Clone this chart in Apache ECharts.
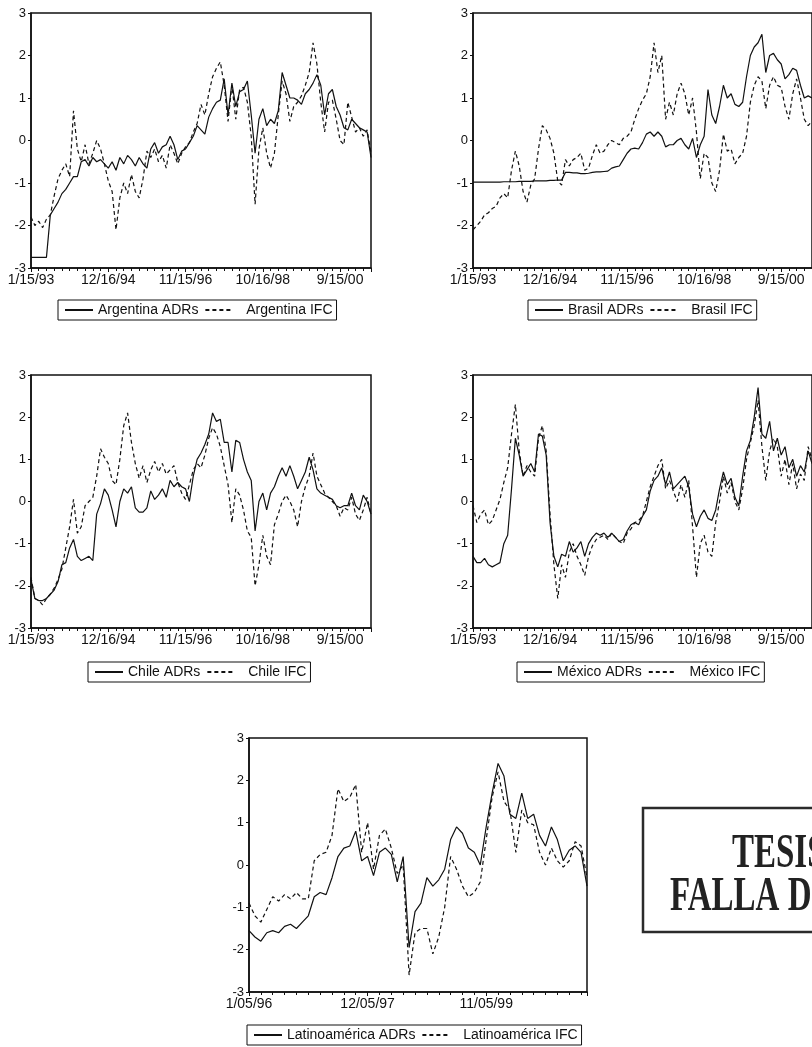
<!DOCTYPE html>
<html>
<head>
<meta charset="utf-8">
<script src="https://cdn.jsdelivr.net/npm/echarts@6/dist/echarts.min.js"></script>
<style>
  html, body { margin: 0; padding: 0; background: #fff; }
  #chart { width: 812px; height: 1047px; }
</style>
</head>
<body>
<div id="chart"></div>
<script>
// Weekly standardized series, one value every STEP observations.
const STEP = 5;

// Tick labels: one every 100 weekly observations.
const dateTicks = ['1/15/93', '12/16/94', '11/15/96', '10/16/98', '9/15/00'];
const latinTicks = ['1/05/96', '12/05/97', '11/05/99'];

const argentinaADR = [-2.75,-2.75,-2.75,-2.75,-2.75,-1.75,-1.6,-1.45,-1.25,-1.15,-1.0,-0.85,-0.85,-0.5,-0.45,-0.6,-0.4,-0.5,-0.45,-0.55,
  -0.65,-0.5,-0.7,-0.4,-0.55,-0.35,-0.45,-0.6,-0.4,-0.55,-0.65,-0.2,-0.05,-0.3,-0.15,-0.1,0.1,-0.1,-0.45,-0.25,
  -0.2,-0.05,0.1,0.35,0.25,0.15,0.55,0.75,0.9,0.95,1.45,0.6,1.35,0.8,1.15,1.2,1.4,0.6,-0.3,0.5,
  0.75,0.35,0.5,0.4,0.7,1.6,1.3,1.0,1.0,0.95,0.85,1.1,1.2,1.35,1.55,1.3,0.6,1.1,1.2,0.8,
  0.6,0.3,0.25,0.5,0.4,0.3,0.25,0.2,-0.4];
const argentinaIFC = [-1.8,-2.0,-1.9,-2.05,-1.85,-1.75,-1.3,-0.9,-0.7,-0.55,-0.85,0.7,-0.2,-0.5,-0.1,-0.55,-0.3,0.0,-0.2,-0.55,
  -0.95,-1.2,-2.1,-1.35,-1.0,-1.25,-0.8,-1.2,-1.35,-0.9,-0.25,-0.4,-0.2,-0.5,-0.35,-0.65,-0.1,-0.3,-0.55,-0.3,
  -0.15,-0.05,0.2,0.4,0.85,0.6,1.1,1.5,1.7,1.85,1.3,0.45,1.3,0.5,1.2,1.25,0.9,0.1,-1.5,-0.2,
  0.3,-0.3,-0.65,-0.3,0.6,1.4,1.1,0.45,0.8,0.9,1.05,1.3,1.6,2.3,1.8,0.9,0.2,0.9,0.95,0.5,
  0.0,-0.1,0.9,0.55,0.2,0.3,0.1,0.25,-0.3];

const brasilADR = [-0.98,-0.98,-0.98,-0.98,-0.98,-0.98,-0.98,-0.98,-0.97,-0.97,-0.97,-0.97,-0.96,-0.96,-0.96,-0.96,-0.95,-0.95,-0.95,-0.95,
  -0.94,-0.94,-0.93,-0.93,-0.75,-0.75,-0.76,-0.76,-0.78,-0.78,-0.77,-0.75,-0.74,-0.74,-0.73,-0.72,-0.65,-0.62,-0.6,-0.45,
  -0.3,-0.2,-0.18,-0.2,-0.05,0.15,0.2,0.1,0.2,0.1,-0.15,-0.1,-0.1,0.0,0.05,-0.1,-0.2,0.05,-0.4,-0.1,
  0.1,1.2,0.6,0.4,0.8,1.3,1.0,1.1,0.85,0.8,0.9,1.5,2.0,2.2,2.3,2.5,1.6,2.0,2.05,1.9,
  1.8,1.45,1.55,1.7,1.65,1.3,1.0,1.05,1.0];
const brasilIFC = [-2.1,-2.0,-1.9,-1.75,-1.7,-1.6,-1.55,-1.35,-1.25,-1.35,-0.7,-0.25,-0.6,-1.2,-1.45,-1.05,-0.9,-0.2,0.35,0.25,
  0.05,-0.3,-0.95,-1.05,-0.45,-0.6,-0.45,-0.4,-0.3,-0.7,-0.65,-0.35,-0.1,-0.3,-0.25,-0.1,0.0,-0.05,-0.1,0.05,
  0.1,0.2,0.5,0.75,0.95,1.1,1.5,2.3,1.6,2.0,0.5,0.9,0.6,1.1,1.35,1.1,0.6,1.0,0.2,-0.9,
  -0.3,-0.4,-1.0,-1.2,-0.7,0.15,-0.25,-0.2,-0.55,-0.4,-0.3,0.1,0.9,1.3,1.5,1.4,0.75,1.3,1.5,1.3,
  1.25,0.8,0.5,1.1,1.45,1.0,0.5,0.35,0.45];

const chileADR = [-1.85,-2.3,-2.35,-2.35,-2.3,-2.2,-2.1,-1.9,-1.5,-1.45,-1.1,-0.9,-1.3,-1.4,-1.35,-1.3,-1.4,-0.3,-0.05,0.3,
  0.15,-0.2,-0.6,0.0,0.3,0.2,0.35,-0.15,-0.25,-0.25,-0.15,0.25,0.05,0.15,0.3,0.1,0.5,0.35,0.45,0.35,
  0.3,0.0,0.6,1.0,1.15,1.35,1.6,2.1,1.9,1.95,1.4,1.4,0.7,1.45,1.4,1.0,0.7,0.5,-0.7,0.0,
  0.2,-0.2,0.2,0.35,0.6,0.8,0.6,0.85,0.6,0.3,0.5,0.7,1.05,0.75,0.3,0.2,0.15,0.1,0.05,-0.1,
  -0.15,-0.1,-0.1,0.2,-0.1,-0.2,0.15,0.0,-0.3];
const chileIFC = [-1.8,-2.3,-2.35,-2.45,-2.3,-2.2,-2.05,-1.85,-1.6,-1.1,-0.6,0.05,-0.75,-0.6,-0.1,0.0,0.1,0.6,1.25,1.05,
  0.9,0.5,0.4,1.0,1.8,2.1,1.4,0.9,0.55,0.85,0.45,0.75,0.95,0.7,0.9,0.65,0.75,0.85,0.45,0.2,
  0.05,0.4,0.75,0.9,0.8,1.1,1.5,1.75,1.6,1.3,0.85,0.4,-0.5,0.3,0.15,-0.2,-0.7,-0.85,-2.0,-1.5,
  -0.8,-1.3,-1.5,-0.55,-0.3,0.0,0.15,0.0,-0.2,-0.6,0.0,0.35,0.6,1.15,0.6,0.4,0.2,0.1,0.0,-0.1,
  -0.35,-0.15,-0.2,0.1,-0.3,-0.45,-0.2,0.1,-0.3];

const mexicoADR = [-1.3,-1.45,-1.45,-1.35,-1.5,-1.55,-1.5,-1.45,-1.0,-0.8,0.3,1.5,1.1,0.6,0.75,0.9,0.7,1.6,1.55,1.1,
  -0.5,-1.3,-1.55,-1.25,-1.3,-0.95,-1.2,-1.1,-0.95,-1.3,-1.0,-0.85,-0.75,-0.8,-0.75,-0.85,-0.75,-0.85,-0.95,-0.9,
  -0.7,-0.55,-0.5,-0.55,-0.35,-0.2,0.25,0.5,0.6,0.8,0.4,0.7,0.3,0.4,0.5,0.6,0.35,-0.3,-0.6,-0.35,
  -0.2,-0.4,-0.45,-0.2,0.3,0.7,0.4,0.55,0.1,-0.1,0.6,1.2,1.45,2.0,2.7,1.6,1.5,1.9,1.2,1.5,
  1.1,1.3,0.8,1.0,0.6,0.85,0.7,1.2,0.9];
const mexicoIFC = [-0.1,-0.5,-0.3,-0.2,-0.55,-0.45,-0.2,0.05,0.45,0.8,1.6,2.3,1.2,0.6,0.85,0.7,0.6,1.5,1.8,1.2,
  -0.3,-1.5,-2.3,-1.5,-1.8,-1.2,-1.0,-1.3,-1.5,-1.75,-1.3,-1.05,-0.9,-0.85,-0.8,-0.9,-0.75,-0.85,-0.95,-1.0,
  -0.75,-0.65,-0.5,-0.45,-0.35,0.0,0.35,0.6,0.85,1.0,0.3,0.5,0.25,0.0,0.4,0.1,0.5,-0.6,-1.8,-1.0,
  -0.8,-1.2,-1.3,-0.5,0.0,0.6,0.2,0.45,0.0,-0.2,0.3,1.0,1.4,1.8,2.4,1.3,0.5,1.2,1.5,1.3,
  0.6,1.0,0.4,0.9,0.3,0.65,0.5,1.3,1.0];

const latinADR = [-1.55,-1.7,-1.8,-1.6,-1.55,-1.6,-1.45,-1.4,-1.5,-1.35,-1.2,-0.75,-0.65,-0.7,-0.3,0.2,0.4,0.45,0.8,0.1,
  0.2,-0.25,0.3,0.4,0.25,-0.4,0.2,-1.95,-1.1,-0.9,-0.3,-0.5,-0.35,-0.1,0.6,0.9,0.75,0.4,0.3,0.0,
  0.9,1.7,2.4,2.1,1.2,1.1,1.7,1.1,1.2,0.7,0.45,0.9,0.6,0.1,0.35,0.45,0.3,-0.5];
const latinIFC = [-0.9,-1.2,-1.35,-1.05,-0.75,-0.85,-0.7,-0.8,-0.65,-0.8,-0.8,0.1,0.25,0.3,0.7,1.8,1.5,1.6,1.9,0.3,
  1.0,-0.1,0.7,0.85,0.4,-0.2,0.0,-2.6,-1.6,-1.5,-1.5,-2.1,-1.7,-1.0,0.2,-0.1,-0.5,-0.75,-0.65,-0.4,
  0.6,1.6,2.2,1.5,1.3,0.3,1.3,1.0,0.95,0.3,0.0,0.4,0.1,-0.05,0.1,0.55,0.45,-0.3];

const panels = [
  { country: 'Argentina',     adr: argentinaADR, ifc: argentinaIFC, ticks: dateTicks,  left: 31,  top: 13,  width: 340, height: 255, legendLeft: 58,  legendTop: 300 },
  { country: 'Brasil',        adr: brasilADR,    ifc: brasilIFC,    ticks: dateTicks,  left: 473, top: 13,  width: 340, height: 255, legendLeft: 528, legendTop: 300 },
  { country: 'Chile',         adr: chileADR,     ifc: chileIFC,     ticks: dateTicks,  left: 31,  top: 375, width: 340, height: 253, legendLeft: 88,  legendTop: 662 },
  { country: 'México',        adr: mexicoADR,    ifc: mexicoIFC,    ticks: dateTicks,  left: 473, top: 375, width: 340, height: 253, legendLeft: 517, legendTop: 662 },
  { country: 'Latinoamérica', adr: latinADR,     ifc: latinIFC,     ticks: latinTicks, left: 249, top: 738, width: 338, height: 254, legendLeft: 247, legendTop: 1025 }
];

const FONT = '"Liberation Sans", Arial, sans-serif';
const INK = '#111';

const toPairs = arr => arr.map((v, i) => [i * STEP, v]);

const grid = [], xAxis = [], yAxis = [], series = [], legend = [];

panels.forEach((p, k) => {
  const n = (p.adr.length - 1) * STEP;
  grid.push({
    left: p.left, top: p.top, width: p.width, height: p.height,
    show: true, borderColor: INK, borderWidth: 1.5, backgroundColor: 'transparent'
  });
  xAxis.push({
    gridIndex: k, type: 'value', min: 0, max: n, interval: 100,
    axisLine: { show: true, onZero: false, lineStyle: { color: INK, width: 1.5 } },
    axisTick: { show: true, inside: false, length: 4, lineStyle: { color: INK, width: 1 } },
    minorTick: { show: true, splitNumber: 10, length: 3, lineStyle: { color: INK, width: 1 } },
    splitLine: { show: false },
    axisLabel: {
      show: true, margin: 5, color: INK, fontFamily: FONT, fontSize: 14,
      showMaxLabel: false,
      formatter: v => p.ticks[Math.round(v / 100)] || ''
    }
  });
  yAxis.push({
    gridIndex: k, type: 'value', min: -3, max: 3, interval: 1,
    axisLine: { show: true, onZero: false, lineStyle: { color: INK, width: 1.5 } },
    axisTick: { show: true, inside: false, length: 3, lineStyle: { color: INK, width: 1 } },
    splitLine: { show: false },
    axisLabel: { margin: 5, color: INK, fontFamily: FONT, fontSize: 13 }
  });
  const adrName = p.country + ' ADRs';
  const ifcName = p.country + ' IFC';
  series.push({
    name: adrName, type: 'line', xAxisIndex: k, yAxisIndex: k,
    data: toPairs(p.adr), symbol: 'circle', symbolSize: 0, showSymbol: false, animation: false,
    lineStyle: { color: INK, width: 1.2, type: 'solid' }, itemStyle: { color: INK }
  });
  series.push({
    name: ifcName, type: 'line', xAxisIndex: k, yAxisIndex: k,
    data: toPairs(p.ifc), symbol: 'circle', symbolSize: 0, showSymbol: false, animation: false,
    lineStyle: { color: INK, width: 1.2, type: [4, 3] }, itemStyle: { color: INK }
  });
  legend.push({
    data: [adrName, ifcName],
    left: p.legendLeft, top: p.legendTop,
    orient: 'horizontal',
    itemWidth: 28, itemHeight: 10, itemGap: 6,
    padding: [3, 4, 3, 6],
    borderColor: INK, borderWidth: 1,
    selectedMode: false,
    itemStyle: { opacity: 0 },
    formatter: name => (name === ifcName ? '  ' + name : name),
    textStyle: { color: INK, fontFamily: FONT, fontSize: 14 }
  });
});

const chart = echarts.init(document.getElementById('chart'), null, { renderer: 'canvas' });
chart.setOption({
  backgroundColor: '#fff',
  animation: false,
  grid, xAxis, yAxis, series, legend,
  graphic: [
    {
      type: 'group',
      children: [
        { type: 'rect', shape: { x: 643, y: 808, width: 200, height: 124 },
          style: { fill: 'none', stroke: '#2b2b2b', lineWidth: 2.5 } },
        { type: 'text', x: 732, y: 829, scaleY: 1.5, originX: 0, originY: 0,
          style: { text: 'TESIS CON', fill: '#222', font: 'bold 33px "Liberation Serif", serif', textVerticalAlign: 'top' } },
        { type: 'text', x: 670, y: 872, scaleY: 1.5, originX: 0, originY: 0,
          style: { text: 'FALLA DE ORIGEN', fill: '#222', font: 'bold 33px "Liberation Serif", serif', textVerticalAlign: 'top' } }
      ]
    }
  ]
});
</script>
</body>
</html>
